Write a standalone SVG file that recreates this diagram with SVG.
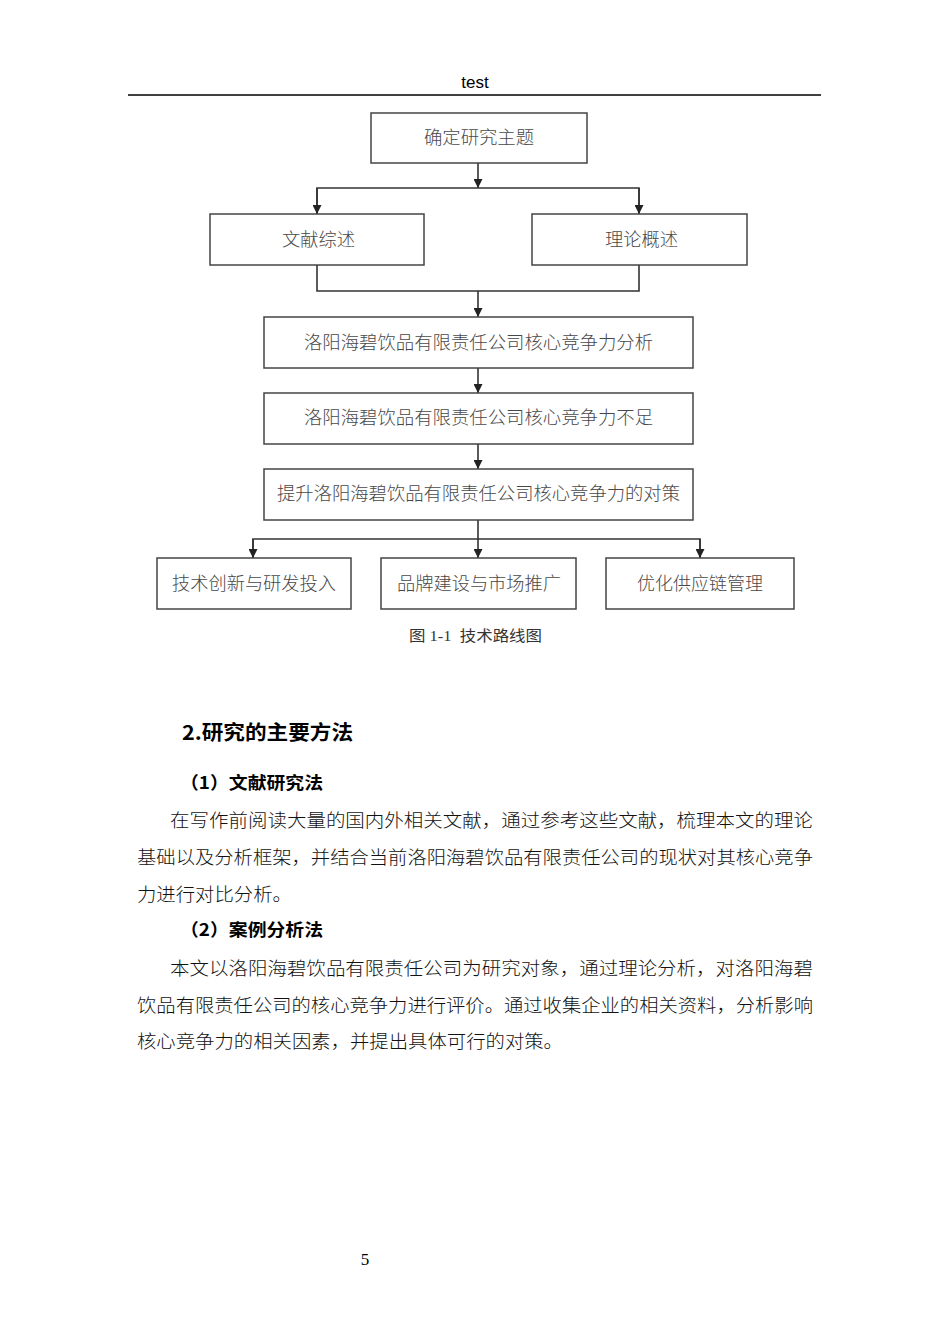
<svg xmlns="http://www.w3.org/2000/svg" width="950" height="1344" viewBox="0 0 950 1344">
<style>
.box{fill:#fff;stroke:#444;stroke-width:1.5}
.bt{font-family:"Noto Sans CJK SC","Noto Sans CJK JP",sans-serif;font-size:18px;fill:#484848;text-anchor:middle;font-weight:300}
.ln{fill:none;stroke:#333;stroke-width:1.6}
.body{font-family:"Noto Sans CJK SC","Noto Sans CJK JP",sans-serif;font-size:18.5px;fill:#111;font-weight:300}
.hd{font-family:"Noto Sans CJK SC","Noto Sans CJK JP",sans-serif;fill:#000;font-weight:bold}
</style>
<defs>
<marker id="ah" viewBox="0 0 10 10" refX="10" refY="5" markerWidth="10" markerHeight="9" markerUnits="userSpaceOnUse" orient="auto">
<path d="M0,0 L10,5 L0,10 z" fill="#222"/>
</marker>
</defs>
<rect width="950" height="1344" fill="#fff"/>
<g id="header">
<text x="475" y="88" font-family="Liberation Sans, Arial, sans-serif" font-size="17" text-anchor="middle" fill="#000">test</text>
<line x1="128" y1="95" x2="821" y2="95" stroke="#000" stroke-width="1.3"/>
</g>
<g id="connectors">
<line class="ln" x1="478" y1="163" x2="478" y2="188" marker-end="url(#ah)"/>
<polyline class="ln" points="317,214 317,188 639,188 639,214"/>
<line class="ln" x1="317" y1="188" x2="317" y2="214" marker-end="url(#ah)"/>
<line class="ln" x1="639" y1="188" x2="639" y2="214" marker-end="url(#ah)"/>
<polyline class="ln" points="317,265 317,291 639,291 639,265"/>
<line class="ln" x1="478" y1="291" x2="478" y2="317" marker-end="url(#ah)"/>
<line class="ln" x1="478" y1="368" x2="478" y2="393" marker-end="url(#ah)"/>
<line class="ln" x1="478" y1="444" x2="478" y2="469" marker-end="url(#ah)"/>
<line class="ln" x1="478" y1="520" x2="478" y2="539"/>
<polyline class="ln" points="253,558 253,539 700,539 700,558"/>
<line class="ln" x1="253" y1="539" x2="253" y2="558" marker-end="url(#ah)"/>
<line class="ln" x1="478" y1="539" x2="478" y2="558" marker-end="url(#ah)"/>
<line class="ln" x1="700" y1="539" x2="700" y2="558" marker-end="url(#ah)"/>
</g>
<g id="n1"><rect class="box" x="371" y="113" width="216" height="50"/><text class="bt" x="479" y="144" textLength="110" lengthAdjust="spacingAndGlyphs">确定研究主题</text></g>
<g id="n2"><rect class="box" x="210" y="214" width="214" height="51"/><text class="bt" x="318.5" y="246" textLength="73" lengthAdjust="spacingAndGlyphs">文献综述</text></g>
<g id="n3"><rect class="box" x="532" y="214" width="215" height="51"/><text class="bt" x="641.5" y="246" textLength="73" lengthAdjust="spacingAndGlyphs">理论概述</text></g>
<g id="n4"><rect class="box" x="264" y="317" width="429" height="51"/><text class="bt" x="478.5" y="349" textLength="349" lengthAdjust="spacingAndGlyphs">洛阳海碧饮品有限责任公司核心竞争力分析</text></g>
<g id="n5"><rect class="box" x="264" y="393" width="429" height="51"/><text class="bt" x="478.5" y="424" textLength="349" lengthAdjust="spacingAndGlyphs">洛阳海碧饮品有限责任公司核心竞争力不足</text></g>
<g id="n6"><rect class="box" x="264" y="469" width="429" height="51"/><text class="bt" x="478.5" y="500" textLength="403" lengthAdjust="spacingAndGlyphs">提升洛阳海碧饮品有限责任公司核心竞争力的对策</text></g>
<g id="n7"><rect class="box" x="157" y="558" width="194" height="51"/><text class="bt" x="254" y="590" textLength="164" lengthAdjust="spacingAndGlyphs">技术创新与研发投入</text></g>
<g id="n8"><rect class="box" x="381" y="558" width="195" height="51"/><text class="bt" x="479" y="590" textLength="164" lengthAdjust="spacingAndGlyphs">品牌建设与市场推广</text></g>
<g id="n9"><rect class="box" x="606" y="558" width="188" height="51"/><text class="bt" x="700" y="590" textLength="126" lengthAdjust="spacingAndGlyphs">优化供应链管理</text></g>
<g id="caption">
<text x="409" y="641" font-family="Liberation Serif, 'Noto Sans CJK SC', serif" font-size="15" fill="#333" textLength="133" lengthAdjust="spacingAndGlyphs" xml:space="preserve">图 1-1  技术路线图</text>
</g>
<g id="text">
<text class="hd" x="182" y="740" font-size="20" textLength="171" lengthAdjust="spacingAndGlyphs">2.研究的主要方法</text>
<text class="hd" x="180" y="789" font-size="17.5" textLength="143" lengthAdjust="spacingAndGlyphs">（1）文献研究法</text>
<text class="body" x="170" y="827" textLength="643" lengthAdjust="spacingAndGlyphs">在写作前阅读大量的国内外相关文献，通过参考这些文献，梳理本文的理论</text>
<text class="body" x="137" y="864" textLength="676" lengthAdjust="spacingAndGlyphs">基础以及分析框架，并结合当前洛阳海碧饮品有限责任公司的现状对其核心竞争</text>
<text class="body" x="137" y="901" textLength="155" lengthAdjust="spacingAndGlyphs">力进行对比分析。</text>
<text class="hd" x="180" y="936" font-size="17.5" textLength="143" lengthAdjust="spacingAndGlyphs">（2）案例分析法</text>
<text class="body" x="170" y="975" textLength="643" lengthAdjust="spacingAndGlyphs">本文以洛阳海碧饮品有限责任公司为研究对象，通过理论分析，对洛阳海碧</text>
<text class="body" x="137" y="1012" textLength="676" lengthAdjust="spacingAndGlyphs">饮品有限责任公司的核心竞争力进行评价。通过收集企业的相关资料，分析影响</text>
<text class="body" x="137" y="1048" textLength="426" lengthAdjust="spacingAndGlyphs">核心竞争力的相关因素，并提出具体可行的对策。</text>
<text x="365" y="1265" font-family="Liberation Serif, serif" font-size="17" text-anchor="middle" fill="#000">5</text>
</g>
</svg>
